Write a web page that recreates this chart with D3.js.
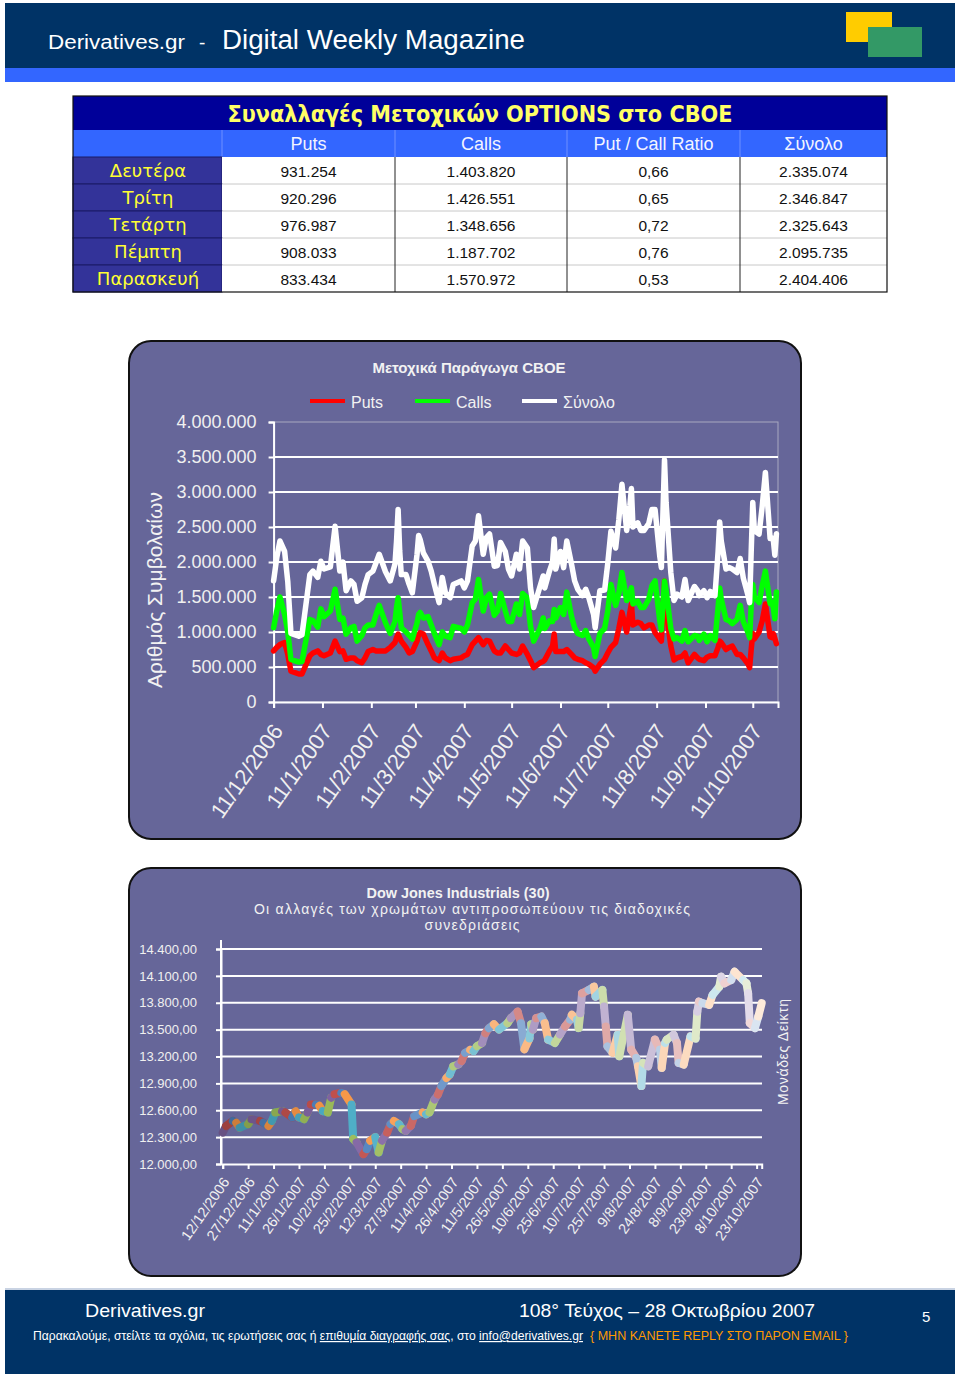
<!DOCTYPE html>
<html><head><meta charset="utf-8">
<script src="https://cdn.jsdelivr.net/npm/d3@7"></script>
<style>body{margin:0;background:#fff}svg{display:block}</style>
</head><body><svg id="page" width="960" height="1378"></svg>
<script>
// ---------------- DATA ----------------
const tableTitle = "Συναλλαγές Μετοχικών OPTIONS στο CBOE";
const tableColumns = ["Puts", "Calls", "Put / Call Ratio", "Σύνολο"];
const tableDays = ["Δευτέρα", "Τρίτη", "Τετάρτη", "Πέμπτη", "Παρασκευή"];
const tablePuts = ["931.254", "920.296", "976.987", "908.033", "833.434"];
const tableCalls = ["1.403.820", "1.426.551", "1.348.656", "1.187.702", "1.570.972"];
const tableRatio = ["0,66", "0,65", "0,72", "0,76", "0,53"];
const tableTotal = ["2.335.074", "2.346.847", "2.325.643", "2.095.735", "2.404.406"];

// CBOE equity options volume (millions of contracts)
const cboeDates = ["2006-12-11","2006-12-13","2006-12-15","2006-12-18","2006-12-20","2006-12-22","2006-12-27","2006-12-29",
"2007-01-03","2007-01-05","2007-01-08","2007-01-10","2007-01-12","2007-01-16","2007-01-19","2007-01-22","2007-01-24","2007-01-26","2007-01-29","2007-01-31",
"2007-02-02","2007-02-05","2007-02-07","2007-02-09","2007-02-12","2007-02-14","2007-02-16","2007-02-20","2007-02-23","2007-02-26","2007-02-27","2007-02-28",
"2007-03-01","2007-03-02","2007-03-05","2007-03-07","2007-03-09","2007-03-12","2007-03-13","2007-03-14","2007-03-16","2007-03-19","2007-03-21","2007-03-23","2007-03-26","2007-03-28","2007-03-30",
"2007-04-02","2007-04-04","2007-04-09","2007-04-11","2007-04-13","2007-04-16","2007-04-18","2007-04-20","2007-04-23","2007-04-25","2007-04-27","2007-04-30",
"2007-05-02","2007-05-04","2007-05-07","2007-05-09","2007-05-11","2007-05-14","2007-05-16","2007-05-18","2007-05-21","2007-05-23","2007-05-25","2007-05-29","2007-05-31",
"2007-06-01","2007-06-04","2007-06-06","2007-06-07","2007-06-08","2007-06-11","2007-06-13","2007-06-15","2007-06-18","2007-06-20","2007-06-22","2007-06-25","2007-06-27","2007-06-29",
"2007-07-02","2007-07-03","2007-07-06","2007-07-09","2007-07-11","2007-07-13","2007-07-16","2007-07-18","2007-07-20","2007-07-23","2007-07-25","2007-07-26","2007-07-27","2007-07-30",
"2007-08-01","2007-08-03","2007-08-06","2007-08-08","2007-08-10","2007-08-13","2007-08-14","2007-08-16","2007-08-17","2007-08-20","2007-08-22","2007-08-24","2007-08-27","2007-08-29","2007-08-31",
"2007-09-04","2007-09-06","2007-09-07","2007-09-10","2007-09-12","2007-09-14","2007-09-17","2007-09-19","2007-09-20","2007-09-21","2007-09-24","2007-09-26","2007-09-28",
"2007-10-01","2007-10-03","2007-10-05","2007-10-08","2007-10-09","2007-10-10","2007-10-11","2007-10-12","2007-10-15","2007-10-17","2007-10-19","2007-10-22","2007-10-23","2007-10-24","2007-10-25","2007-10-26"];
const cboeTotal = [1.73,2.06,2.30,2.15,1.72,0.98,0.94,0.96,
1.82,1.87,1.78,2.01,1.90,1.93,2.51,1.87,2.00,1.59,1.73,1.68,
1.44,1.49,1.68,1.82,1.87,1.99,2.11,1.86,1.73,1.97,2.30,2.75,
2.16,1.82,1.82,1.68,1.56,2.11,2.38,2.32,2.13,2.01,1.87,1.68,1.42,1.78,1.56,
1.49,1.68,1.73,1.63,1.73,2.23,2.30,2.66,2.11,2.35,2.40,1.94,
1.95,2.28,2.15,1.90,1.80,2.11,1.90,2.30,2.20,1.63,1.35,1.65,1.80,
1.63,1.87,2.00,2.33,1.90,2.15,1.92,2.30,1.97,1.73,1.61,1.52,1.61,1.49,
1.25,1.06,1.59,1.60,1.98,2.44,2.20,2.60,3.11,2.45,2.80,3.05,2.50,2.56,
2.45,2.45,2.55,2.75,2.75,2.08,1.92,3.46,2.85,1.85,1.45,1.54,1.50,1.75,1.45,
1.65,1.59,1.52,1.59,1.49,1.58,1.52,2.15,2.57,2.30,1.90,1.92,1.90,
1.85,2.05,1.77,1.52,1.42,2.15,2.85,2.45,2.40,2.80,3.28,2.335,2.347,2.326,2.096,2.404];
const cboeCalls = [1.06,1.30,1.50,1.25,1.00,0.61,0.57,0.58,
1.18,1.16,1.07,1.33,1.22,1.30,1.61,1.18,1.20,0.97,1.06,1.08,
0.87,0.95,1.06,1.10,1.10,1.25,1.38,1.13,0.98,1.15,1.35,1.49,
1.28,1.06,1.00,0.95,0.90,1.13,1.25,1.28,1.20,1.22,1.10,0.98,0.82,1.00,0.94,
0.92,1.08,1.05,1.00,1.10,1.42,1.47,1.75,1.30,1.49,1.54,1.24,
1.30,1.55,1.30,1.15,1.15,1.40,1.25,1.55,1.49,1.08,0.87,1.05,1.20,
1.05,1.16,1.15,1.32,1.20,1.35,1.25,1.57,1.22,1.06,0.98,0.95,1.02,0.90,
0.78,0.65,0.98,1.05,1.30,1.68,1.38,1.55,1.85,1.45,1.55,1.63,1.40,1.44,
1.35,1.35,1.47,1.66,1.73,1.16,1.03,1.73,1.59,1.05,0.90,0.92,0.87,1.02,0.86,
0.95,0.94,0.88,0.97,0.86,0.95,0.88,1.35,1.63,1.47,1.18,1.16,1.12,
1.18,1.38,1.15,0.99,0.92,1.38,1.68,1.50,1.42,1.66,1.87,1.404,1.427,1.349,1.188,1.571];
const cboePuts = [0.73,0.78,0.82,0.85,0.68,0.44,0.40,0.40,
0.66,0.70,0.73,0.68,0.66,0.70,0.87,0.72,0.73,0.61,0.63,0.63,
0.59,0.56,0.63,0.72,0.75,0.73,0.73,0.73,0.78,0.85,0.92,0.97,
0.92,0.87,0.78,0.70,0.72,0.87,0.96,0.99,0.97,0.82,0.73,0.63,0.59,0.70,0.63,
0.59,0.61,0.63,0.66,0.68,0.82,0.87,0.92,0.82,0.88,0.87,0.73,
0.70,0.70,0.80,0.75,0.70,0.68,0.70,0.80,0.68,0.59,0.49,0.56,0.58,
0.60,0.73,0.80,0.97,0.72,0.72,0.72,0.75,0.68,0.63,0.61,0.59,0.56,0.54,
0.49,0.44,0.54,0.61,0.70,0.78,0.85,1.05,1.28,1.00,1.28,1.40,1.10,1.14,
1.12,1.06,1.10,1.10,0.99,0.90,0.87,1.73,1.30,0.80,0.60,0.63,0.65,0.70,0.56,
0.68,0.63,0.61,0.59,0.64,0.66,0.66,0.78,0.87,0.85,0.75,0.78,0.80,
0.68,0.68,0.63,0.54,0.49,0.75,0.98,0.90,1.00,1.16,1.40,0.931,0.920,0.977,0.908,0.833];
const cboeTicks = ["2006-12-11","2007-01-11","2007-02-11","2007-03-11","2007-04-11","2007-05-11","2007-06-11","2007-07-11","2007-08-11","2007-09-11","2007-10-11"];
const cboeYTicks = [0, 500000, 1000000, 1500000, 2000000, 2500000, 3000000, 3500000, 4000000];
const cboeSeries = ["Puts", "Calls", "Σύνολο"];

// Dow Jones Industrials closing levels
const dowDates = ["2006-12-12","2006-12-14","2006-12-18","2006-12-20","2006-12-22","2006-12-27","2006-12-29",
"2007-01-03","2007-01-05","2007-01-08","2007-01-10","2007-01-12","2007-01-16","2007-01-18","2007-01-22","2007-01-24","2007-01-26","2007-01-29","2007-01-31",
"2007-02-02","2007-02-05","2007-02-07","2007-02-09","2007-02-12","2007-02-14","2007-02-16","2007-02-20","2007-02-22","2007-02-26","2007-02-27",
"2007-03-01","2007-03-05","2007-03-07","2007-03-09","2007-03-12","2007-03-14","2007-03-16","2007-03-19","2007-03-21","2007-03-23","2007-03-26","2007-03-28","2007-03-30",
"2007-04-02","2007-04-04","2007-04-09","2007-04-11","2007-04-13","2007-04-16","2007-04-18","2007-04-20","2007-04-23","2007-04-25","2007-04-27","2007-04-30",
"2007-05-02","2007-05-04","2007-05-07","2007-05-09","2007-05-11","2007-05-14","2007-05-16","2007-05-18","2007-05-21","2007-05-24","2007-05-29","2007-05-31",
"2007-06-04","2007-06-06","2007-06-08","2007-06-11","2007-06-12","2007-06-13","2007-06-15","2007-06-18","2007-06-20","2007-06-22","2007-06-26","2007-06-29",
"2007-07-02","2007-07-05","2007-07-06","2007-07-09","2007-07-10","2007-07-11","2007-07-12","2007-07-16","2007-07-19","2007-07-20","2007-07-24","2007-07-25","2007-07-26","2007-07-27","2007-07-30",
"2007-08-02","2007-08-03","2007-08-08","2007-08-10","2007-08-13","2007-08-14","2007-08-16","2007-08-17","2007-08-20","2007-08-24","2007-08-27","2007-08-28","2007-08-30","2007-08-31",
"2007-09-04","2007-09-06","2007-09-07","2007-09-10","2007-09-14","2007-09-17","2007-09-18","2007-09-19","2007-09-21","2007-09-25","2007-09-27",
"2007-10-01","2007-10-02","2007-10-04","2007-10-08","2007-10-10","2007-10-15","2007-10-17","2007-10-18","2007-10-19","2007-10-22","2007-10-24","2007-10-26"];
const dowValues = [12350,12425,12480,12460,12405,12445,12500,
12480,12460,12425,12480,12575,12590,12575,12520,12590,12520,12500,12575,
12665,12665,12650,12590,12575,12740,12780,12795,12780,12665,12280,
12240,12110,12165,12260,12300,12130,12260,12350,12445,12480,12445,12390,12370,
12425,12535,12575,12555,12575,12720,12775,12870,12960,13000,13090,13110,
13150,13240,13275,13260,13315,13350,13460,13515,13560,13500,13572,13628,
13700,13572,13280,13400,13560,13500,13628,13647,13572,13388,13351,13444,
13535,13610,13665,13610,13517,13683,13905,13943,13980,13868,13943,13757,13535,13313,13240,
13444,13203,13665,13277,13184,13092,12870,13129,13092,13388,13277,13073,13351,13388,
13444,13351,13129,13110,13425,13400,13700,13813,13795,13776,13887,
13980,14090,14017,14054,14146,14054,14017,13905,13573,13517,13647,13795];
const dowTicks = ["2006-12-12","2006-12-27","2007-01-11","2007-01-26","2007-02-10","2007-02-25","2007-03-12","2007-03-27","2007-04-11","2007-04-26","2007-05-11",
"2007-05-26","2007-06-10","2007-06-25","2007-07-10","2007-07-25","2007-08-09","2007-08-24","2007-09-08","2007-09-23","2007-10-08","2007-10-23"];
const dowYTicks = [12000, 12300, 12600, 12900, 13200, 13500, 13800, 14100, 14400];

// ---------------- DRAWING ----------------
const parse = d3.utcParse("%Y-%m-%d");
const gr = d3.formatLocale({decimal: ",", thousands: ".", grouping: [3], currency: ["", ""]});
const fmtInt = gr.format(",.0f");
const fmt2 = gr.format(",.2f");
const dateFmt = d3.utcFormat("%-d/%-m/%Y");
const SANS = "'Liberation Sans', Arial, sans-serif";
const NARROW = "'Liberation Sans Narrow', 'Liberation Sans', Arial, sans-serif";
const ROUND = "'DejaVu Sans', 'Liberation Sans', sans-serif";

const svg = d3.select("#page");
svg.append("rect").attr("width", 960).attr("height", 1378).attr("fill", "#fff");

// Header
svg.append("rect").attr("x", 5).attr("y", 3).attr("width", 950).attr("height", 65).attr("fill", "#003366");
svg.append("rect").attr("x", 5).attr("y", 68).attr("width", 950).attr("height", 14).attr("fill", "#3366ff");
svg.append("rect").attr("x", 846).attr("y", 12).attr("width", 46).attr("height", 30).attr("fill", "#ffcc00");
svg.append("rect").attr("x", 868).attr("y", 27).attr("width", 54).attr("height", 30).attr("fill", "#339966");
svg.append("text").attr("x", 48).attr("y", 49).attr("fill", "#fff").attr("font-family", NARROW).attr("font-size", 20)
  .attr("textLength", 137).attr("lengthAdjust", "spacingAndGlyphs").text("Derivatives.gr");
svg.append("text").attr("x", 199).attr("y", 49).attr("fill", "#fff").attr("font-family", NARROW).attr("font-size", 19).text("-");
svg.append("text").attr("x", 222).attr("y", 49).attr("fill", "#fff").attr("font-family", NARROW).attr("font-size", 27)
  .attr("textLength", 303).attr("lengthAdjust", "spacingAndGlyphs").text("Digital Weekly Magazine");

// Table
const colX = [73, 222, 395, 567, 740, 887];
const tTop = 96, titleH = 34, headH = 27, rowH = 27;
const tg = svg.append("g");
tg.append("rect").attr("x", 73).attr("y", tTop).attr("width", 814).attr("height", titleH).attr("fill", "#000099");
tg.append("text").attr("x", 480).attr("y", tTop + 26).attr("text-anchor", "middle").attr("fill", "#ffff66")
  .attr("font-family", ROUND).attr("font-weight", "bold").attr("font-size", 23)
  .attr("textLength", 505).attr("lengthAdjust", "spacingAndGlyphs").text(tableTitle);
const hY = tTop + titleH;
tg.append("rect").attr("x", 73).attr("y", hY).attr("width", 814).attr("height", headH).attr("fill", "#3366ff");
tableColumns.forEach((c, i) => {
  const cx = (colX[i + 1] + colX[i + 2]) / 2;
  tg.append("text").attr("x", cx).attr("y", hY + 20).attr("text-anchor", "middle").attr("fill", "#f4f4ff")
    .attr("font-family", NARROW).attr("font-size", 18).text(c);
  tg.append("line").attr("x1", colX[i + 1]).attr("x2", colX[i + 1]).attr("y1", hY).attr("y2", hY + headH)
    .attr("stroke", "#6f8fff").attr("stroke-width", 1);
});
const dY = hY + headH;
const cols = [tablePuts, tableCalls, tableRatio, tableTotal];
tableDays.forEach((d, r) => {
  const y0 = dY + r * rowH;
  tg.append("rect").attr("x", 73).attr("y", y0).attr("width", 149).attr("height", rowH).attr("fill", "#333399")
    .attr("stroke", "#1a1a66").attr("stroke-width", 1);
  tg.append("rect").attr("x", 222).attr("y", y0).attr("width", 665).attr("height", rowH).attr("fill", "#fff");
  tg.append("text").attr("x", 148).attr("y", y0 + 20).attr("text-anchor", "middle").attr("fill", "#ffff33")
    .attr("font-family", ROUND).attr("font-size", 18).text(d);
  cols.forEach((col, c) => {
    const cx = (colX[c + 1] + colX[c + 2]) / 2;
    tg.append("text").attr("x", cx).attr("y", y0 + 20).attr("text-anchor", "middle").attr("fill", "#111")
      .attr("font-family", SANS).attr("font-size", 15.5).text(col[r]);
  });
  if (r > 0) tg.append("line").attr("x1", 222).attr("x2", 887).attr("y1", y0).attr("y2", y0).attr("stroke", "#c8c8c8");
});
[395, 567, 740].forEach(x => tg.append("line").attr("x1", x).attr("x2", x).attr("y1", dY).attr("y2", dY + 5 * rowH).attr("stroke", "#222"));
tg.append("rect").attr("x", 73).attr("y", tTop).attr("width", 814).attr("height", titleH + headH + 5 * rowH)
  .attr("fill", "none").attr("stroke", "#111").attr("stroke-width", 1.2);

// Chart box helper
function box(y, h) {
  svg.append("rect").attr("x", 129).attr("y", y).attr("width", 672).attr("height", h).attr("rx", 22).attr("ry", 22)
    .attr("fill", "#666699").attr("stroke", "#111").attr("stroke-width", 2);
}

// ---------- Chart 1 ----------
box(341, 498);
const x1 = d3.scaleUtc().domain([parse("2006-12-11"), parse("2007-10-27")]).range([273.6, 778]);
const y1 = d3.scaleLinear().domain([0, 4000000]).range([702, 422]);
const c1 = svg.append("g");
c1.append("text").attr("x", 469).attr("y", 373).attr("text-anchor", "middle").attr("fill", "#f2f2f2")
  .attr("font-family", SANS).attr("font-weight", "bold").attr("font-size", 15).text("Μετοχικά Παράγωγα CBOE");
const seriesColors = ["#ff0000", "#00ff00", "#ffffff"];
const legX = [310, 415, 522];
cboeSeries.forEach((s, i) => {
  c1.append("line").attr("x1", legX[i]).attr("x2", legX[i] + 35).attr("y1", 401).attr("y2", 401)
    .attr("stroke", seriesColors[i]).attr("stroke-width", 4);
  c1.append("text").attr("x", legX[i] + 41).attr("y", 408).attr("fill", "#f2f2f2").attr("font-family", SANS)
    .attr("font-size", 16).text(s);
});
c1.append("text").attr("transform", "translate(162,590) rotate(-90)").attr("text-anchor", "middle")
  .attr("fill", "#f2f2f2").attr("font-family", SANS).attr("font-size", 21).text("Αριθμός Συμβολαίων");
// plot border + grid
c1.append("rect").attr("x", 273.6).attr("y", 422).attr("width", 778 - 273.6).attr("height", 280)
  .attr("fill", "none").attr("stroke", "#a8a8c0").attr("stroke-width", 1);
c1.selectAll("line.grid").data(cboeYTicks.filter(v => v > 0 && v < 4000000)).join("line")
  .attr("x1", 273.6).attr("x2", 778).attr("y1", d => y1(d)).attr("y2", d => y1(d))
  .attr("stroke", "#fff").attr("stroke-width", 2);
const ax1 = c1.append("g").attr("transform", "translate(273.6,0)")
  .call(d3.axisLeft(y1).tickValues(cboeYTicks).tickSize(5).tickPadding(12).tickFormat(fmtInt));
ax1.select(".domain").attr("stroke", "#fff").attr("stroke-width", 2);
ax1.selectAll(".tick line").attr("stroke", "#fff").attr("stroke-width", 2);
ax1.selectAll("text").attr("fill", "#f0f0f0").attr("font-family", SANS).attr("font-size", 18);
const bx1 = c1.append("g").attr("transform", "translate(0,702)")
  .call(d3.axisBottom(x1).tickValues(cboeTicks.map(parse)).tickSize(6).tickFormat(dateFmt));
bx1.select(".domain").attr("stroke", "#fff").attr("stroke-width", 2);
bx1.selectAll(".tick line").attr("stroke", "#fff").attr("stroke-width", 2);
bx1.selectAll("text").attr("fill", "#f0f0f0").attr("font-family", SANS).attr("font-size", 22)
  .attr("x", 0).attr("y", 0).attr("dy", 0).attr("text-anchor", "end")
  .attr("transform", "translate(10,29) rotate(-55)");
const cDates = cboeDates.map(parse);
const line1 = d3.line().x((d, i) => x1(cDates[i])).y(d => y1(d * 1e6));
[cboePuts, cboeCalls, cboeTotal].forEach((vals, i) => {
  c1.append("path").attr("d", line1(vals)).attr("fill", "none").attr("stroke", seriesColors[i])
    .attr("stroke-width", 5.5).attr("stroke-linejoin", "round").attr("stroke-linecap", "round");
});

// ---------- Chart 2 ----------
box(868, 408);
const x2 = d3.scaleUtc().domain([parse("2006-12-12"), parse("2007-10-26")]).range([222.7, 761.7]);
const y2 = d3.scaleLinear().domain([12000, 14400]).range([1164, 949]);
const c2 = svg.append("g");
c2.append("text").attr("x", 458).attr("y", 898).attr("text-anchor", "middle").attr("fill", "#f2f2f2")
  .attr("font-family", SANS).attr("font-weight", "bold").attr("font-size", 14.5)
  .attr("textLength", 183).attr("lengthAdjust", "spacingAndGlyphs").text("Dow Jones Industrials (30)");
c2.append("text").attr("x", 472).attr("y", 914).attr("text-anchor", "middle").attr("fill", "#f2f2f2")
  .attr("font-family", SANS).attr("font-size", 14)
  .attr("textLength", 436).attr("lengthAdjust", "spacing").text("Οι αλλαγές των χρωμάτων αντιπροσωπεύουν τις διαδοχικές");
c2.append("text").attr("x", 472).attr("y", 930).attr("text-anchor", "middle").attr("fill", "#f2f2f2")
  .attr("font-family", SANS).attr("font-size", 14)
  .attr("textLength", 95).attr("lengthAdjust", "spacing").text("συνεδριάσεις");
c2.append("text").attr("transform", "translate(788,1052) rotate(-90)").attr("text-anchor", "middle")
  .attr("fill", "#f2f2f2").attr("font-family", SANS).attr("font-size", 14)
  .attr("textLength", 106).attr("lengthAdjust", "spacing").text("Μονάδες Δείκτη");
c2.selectAll("line.grid").data(dowYTicks.filter(v => v > 12000)).join("line")
  .attr("x1", 221).attr("x2", 762).attr("y1", d => y2(d)).attr("y2", d => y2(d))
  .attr("stroke", "#fff").attr("stroke-width", 2);
c2.append("line").attr("x1", 221).attr("x2", 221).attr("y1", 940).attr("y2", 1164).attr("stroke", "#fff").attr("stroke-width", 2);
const ax2 = c2.append("g").attr("transform", "translate(221,0)")
  .call(d3.axisLeft(y2).tickValues(dowYTicks).tickSize(5).tickPadding(19).tickFormat(fmt2));
ax2.select(".domain").attr("stroke", "#fff").attr("stroke-width", 2);
ax2.selectAll(".tick line").attr("stroke", "#fff").attr("stroke-width", 2);
ax2.selectAll("text").attr("fill", "#f0f0f0").attr("font-family", SANS).attr("font-size", 13);
const bx2 = c2.append("g").attr("transform", "translate(0,1164)")
  .call(d3.axisBottom(x2).tickValues(dowTicks.map(parse)).tickSize(5).tickFormat(dateFmt));
bx2.select(".domain").attr("stroke", "#fff").attr("stroke-width", 2);
bx2.selectAll(".tick line").attr("stroke", "#fff").attr("stroke-width", 2);
bx2.selectAll("text").attr("fill", "#f0f0f0").attr("font-family", SANS).attr("font-size", 14.5)
  .attr("x", 0).attr("y", 0).attr("dy", 0).attr("text-anchor", "end")
  .attr("transform", "translate(7,18) rotate(-55)");
// multi-coloured segments (one colour per session)
const accents = ["#9BBB59", "#8064A2", "#C0504D", "#4F81BD", "#F79646", "#4BACC6"];
function segColor(i, n) {
  const t = i / (n - 1), f = -0.2 + 1.0 * t, c = d3.rgb(accents[i % 6]);
  if (f < 0) return d3.rgb(c.r * (1 + f), c.g * (1 + f), c.b * (1 + f)).formatHex();
  return d3.rgb(c.r + (255 - c.r) * f, c.g + (255 - c.g) * f, c.b + (255 - c.b) * f).formatHex();
}
const dDates = dowDates.map(parse);
const segs = d3.range(1, dowValues.length).map(i => [i - 1, i]);
const line2 = d3.line().x(i => x2(dDates[i])).y(i => y2(dowValues[i]));
c2.selectAll("path.seg").data(segs).join("path").attr("class", "seg")
  .attr("d", d => line2(d)).attr("fill", "none").attr("stroke", (d, k) => segColor(k + 1, dowValues.length))
  .attr("stroke-width", 8).attr("stroke-linecap", "round");

// Footer
svg.append("rect").attr("x", 5).attr("y", 1288).attr("width", 950).attr("height", 2).attr("fill", "#c9d3e3");
svg.append("rect").attr("x", 5).attr("y", 1290).attr("width", 950).attr("height", 84).attr("fill", "#003366");
svg.append("text").attr("x", 85).attr("y", 1317).attr("fill", "#fff").attr("font-family", NARROW).attr("font-size", 19)
  .attr("textLength", 120).attr("lengthAdjust", "spacingAndGlyphs").text("Derivatives.gr");
svg.append("text").attr("x", 519).attr("y", 1317).attr("fill", "#fff").attr("font-family", NARROW).attr("font-size", 19)
  .attr("textLength", 296).attr("lengthAdjust", "spacingAndGlyphs").text("108° Τεύχος – 28 Οκτωβρίου 2007");
svg.append("text").attr("x", 922).attr("y", 1322).attr("fill", "#fff").attr("font-family", NARROW).attr("font-size", 15).text("5");
const ft = svg.append("text").attr("x", 33).attr("y", 1340).attr("fill", "#fff").attr("font-family", NARROW).attr("font-size", 12)
  .attr("textLength", 550).attr("lengthAdjust", "spacingAndGlyphs");
ft.append("tspan").text("Παρακαλούμε, στείλτε τα σχόλια, τις ερωτήσεις σας ή ");
ft.append("tspan").attr("text-decoration", "underline").text("επιθυμία διαγραφής σας");
ft.append("tspan").text(", στο ");
ft.append("tspan").attr("text-decoration", "underline").text("info@derivatives.gr");
svg.append("text").attr("x", 590).attr("y", 1340).attr("fill", "#ff9900").attr("font-family", NARROW).attr("font-size", 12)
  .attr("textLength", 258).attr("lengthAdjust", "spacingAndGlyphs").text("{ ΜΗΝ ΚΑΝΕΤΕ REPLY ΣΤΟ ΠΑΡΟΝ EMAIL }");
</script></body></html>
